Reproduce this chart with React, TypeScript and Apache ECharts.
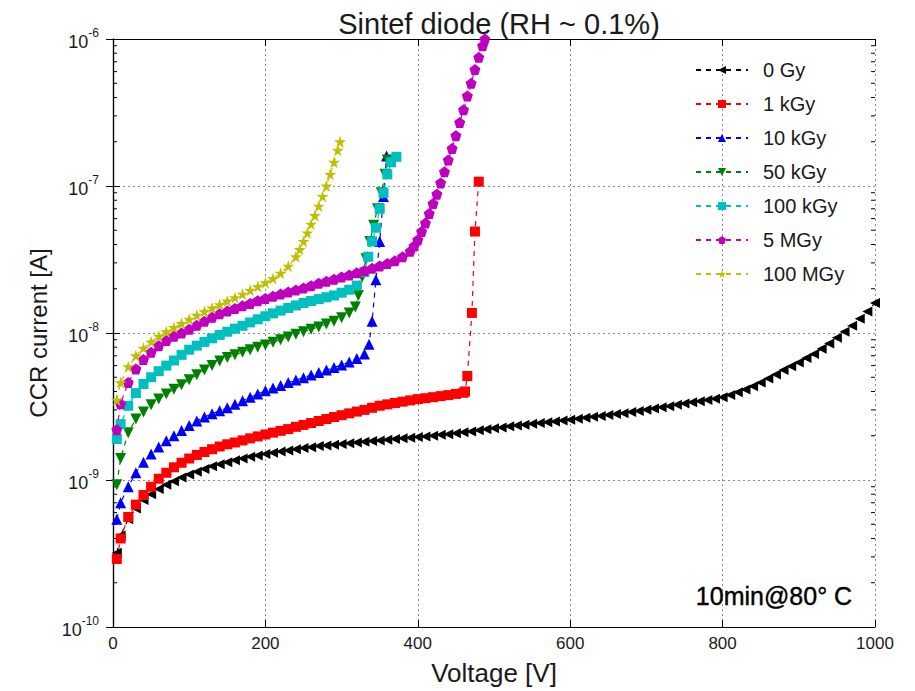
import { useEffect, useRef } from "react";
import * as echarts from "echarts";

// ---------- data ----------
const SERIES_NAMES = ["0 Gy", "1 kGy", "10 kGy", "50 kGy", "100 kGy", "5 MGy", "100 MGy"];

const V_0GY = [5, 10, 20, 30, 40, 50, 60, 70, 80, 90, 100, 110, 120, 130, 140, 150, 160, 170, 180, 190, 200,
  210, 220, 230, 240, 250, 260, 270, 280, 290, 300, 310, 320, 330, 340, 350, 360, 370, 380, 390, 400,
  410, 420, 430, 440, 450, 460, 470, 480, 490, 500, 510, 520, 530, 540, 550, 560, 570, 580, 590, 600,
  610, 620, 630, 640, 650, 660, 670, 680, 690, 700, 710, 720, 730, 740, 750, 760, 770, 780, 790, 800,
  810, 820, 830, 840, 850, 860, 870, 880, 890, 900, 910, 920, 930, 940, 950, 960, 970, 980, 990, 1000];
const I_0GY = [3.2e-10, 4.2e-10, 5.4e-10, 6.4e-10, 7.3e-10, 8.0e-10, 8.7e-10, 9.3e-10, 9.8e-10, 1.04e-9, 1.09e-9,
  1.14e-9, 1.19e-9, 1.24e-9, 1.28e-9, 1.32e-9, 1.36e-9, 1.40e-9, 1.44e-9, 1.47e-9, 1.50e-9,
  1.53e-9, 1.56e-9, 1.59e-9, 1.62e-9, 1.65e-9, 1.67e-9, 1.70e-9, 1.72e-9, 1.74e-9, 1.76e-9,
  1.78e-9, 1.80e-9, 1.82e-9, 1.84e-9, 1.86e-9, 1.88e-9, 1.90e-9, 1.92e-9, 1.94e-9, 1.96e-9,
  1.98e-9, 2.00e-9, 2.03e-9, 2.05e-9, 2.08e-9, 2.11e-9, 2.14e-9, 2.18e-9, 2.21e-9, 2.25e-9,
  2.28e-9, 2.32e-9, 2.35e-9, 2.38e-9, 2.41e-9, 2.44e-9, 2.47e-9, 2.50e-9, 2.54e-9, 2.57e-9,
  2.61e-9, 2.65e-9, 2.69e-9, 2.73e-9, 2.77e-9, 2.81e-9, 2.85e-9, 2.90e-9, 2.95e-9, 3.00e-9,
  3.06e-9, 3.12e-9, 3.18e-9, 3.25e-9, 3.31e-9, 3.38e-9, 3.44e-9, 3.50e-9, 3.57e-9, 3.65e-9,
  3.78e-9, 3.95e-9, 4.13e-9, 4.35e-9, 4.60e-9, 4.90e-9, 5.22e-9, 5.60e-9, 5.95e-9, 6.30e-9,
  6.75e-9, 7.20e-9, 7.80e-9, 8.50e-9, 9.30e-9, 1.02e-8, 1.12e-8, 1.25e-8, 1.40e-8, 1.60e-8];

const V_1KGY = [5, 10, 20, 30, 40, 50, 60, 70, 80, 90, 100, 110, 120, 130, 140, 150, 160, 170, 180, 190, 200,
  210, 220, 230, 240, 250, 260, 270, 280, 290, 300, 310, 320, 330, 340, 350, 360, 370, 380, 390, 400,
  410, 420, 430, 440, 450, 460, 462, 465, 471, 475, 480];
const I_1KGY = [2.9e-10, 4.0e-10, 5.6e-10, 6.8e-10, 7.9e-10, 9.0e-10, 1.02e-9, 1.12e-9, 1.22e-9, 1.31e-9, 1.40e-9,
  1.48e-9, 1.55e-9, 1.62e-9, 1.69e-9, 1.75e-9, 1.80e-9, 1.86e-9, 1.92e-9, 1.98e-9, 2.04e-9,
  2.10e-9, 2.16e-9, 2.22e-9, 2.30e-9, 2.37e-9, 2.44e-9, 2.52e-9, 2.60e-9, 2.68e-9, 2.76e-9,
  2.84e-9, 2.92e-9, 3.00e-9, 3.10e-9, 3.20e-9, 3.27e-9, 3.34e-9, 3.41e-9, 3.48e-9, 3.55e-9,
  3.60e-9, 3.66e-9, 3.72e-9, 3.78e-9, 3.85e-9, 3.92e-9, 4.0e-9, 5.1e-9, 1.37e-8, 4.9e-8, 1.07e-7];

const V_10KGY = [5, 10, 20, 30, 40, 50, 60, 70, 80, 90, 100, 110, 120, 130, 140, 150, 160, 170, 180, 190, 200,
  210, 220, 230, 240, 250, 260, 270, 280, 290, 300, 310, 320, 330, 336, 340, 345, 350, 355, 359];
const I_10KGY = [5.4e-10, 7.0e-10, 9.0e-10, 1.12e-9, 1.32e-9, 1.50e-9, 1.68e-9, 1.85e-9, 2.0e-9, 2.17e-9, 2.35e-9,
  2.52e-9, 2.68e-9, 2.82e-9, 2.96e-9, 3.10e-9, 3.28e-9, 3.46e-9, 3.65e-9, 3.85e-9, 4.05e-9,
  4.22e-9, 4.40e-9, 4.60e-9, 4.78e-9, 4.97e-9, 5.17e-9, 5.38e-9, 5.60e-9, 5.82e-9, 6.05e-9,
  6.35e-9, 6.70e-9, 7.20e-9, 8.4e-9, 1.2e-8, 2.3e-8, 4.2e-8, 8.5e-8, 1.6e-7];

const V_50KGY = [5, 10, 20, 30, 40, 50, 60, 70, 80, 90, 100, 110, 120, 130, 140, 150, 160, 170, 180, 190, 200,
  210, 220, 230, 240, 250, 260, 270, 280, 290, 300, 310, 318, 322, 327, 332, 337, 342, 347, 352, 357, 360];
const I_50KGY = [9.3e-10, 1.4e-9, 2.1e-9, 2.6e-9, 2.9e-9, 3.25e-9, 3.55e-9, 3.85e-9, 4.15e-9, 4.45e-9, 4.8e-9,
  5.2e-9, 5.6e-9, 6.0e-9, 6.45e-9, 6.8e-9, 7.1e-9, 7.4e-9, 7.7e-9, 8.0e-9, 8.3e-9,
  8.65e-9, 9.0e-9, 9.4e-9, 9.8e-9, 1.02e-8, 1.06e-8, 1.10e-8, 1.15e-8, 1.20e-8, 1.27e-8,
  1.37e-8, 1.5e-8, 1.8e-8, 2.4e-8, 3.2e-8, 4.2e-8, 5.4e-8, 7.0e-8, 9.0e-8, 1.2e-7, 1.5e-7];

const V_100KGY = [5, 10, 20, 30, 40, 50, 60, 70, 80, 90, 100, 110, 120, 130, 140, 150, 160, 170, 180, 190, 200,
  210, 220, 230, 240, 250, 260, 270, 280, 290, 300, 310, 320, 330, 335, 340, 345, 350, 355, 360, 365, 372];
const I_100KGY = [1.9e-9, 2.4e-9, 3.2e-9, 3.9e-9, 4.5e-9, 5.0e-9, 5.5e-9, 6.0e-9, 6.5e-9, 7.1e-9, 7.7e-9,
  8.2e-9, 8.7e-9, 9.2e-9, 9.7e-9, 1.02e-8, 1.07e-8, 1.12e-8, 1.18e-8, 1.24e-8, 1.30e-8,
  1.36e-8, 1.42e-8, 1.48e-8, 1.54e-8, 1.60e-8, 1.65e-8, 1.70e-8, 1.75e-8, 1.80e-8, 1.88e-8,
  1.97e-8, 2.1e-8, 2.6e-8, 3.3e-8, 4.2e-8, 5.2e-8, 7.0e-8, 9.0e-8, 1.2e-7, 1.45e-7, 1.58e-7];

const V_5MGY = [5, 10, 20, 30, 40, 50, 60, 70, 80, 90, 100, 110, 120, 130, 140, 150, 160, 170, 180, 190, 200,
  210, 220, 230, 240, 250, 260, 270, 280, 290, 300, 310, 320, 330, 340, 350, 360, 370, 380, 390, 395,
  400, 405, 410, 415, 420, 425, 430, 435, 440, 445, 450, 455, 460, 465, 470, 475, 480, 485, 488];
const I_5MGY = [2.2e-9, 3.3e-9, 4.6e-9, 5.7e-9, 6.6e-9, 7.4e-9, 8.2e-9, 8.9e-9, 9.5e-9, 1.0e-8, 1.06e-8,
  1.13e-8, 1.20e-8, 1.28e-8, 1.35e-8, 1.41e-8, 1.47e-8, 1.53e-8, 1.59e-8, 1.66e-8, 1.72e-8,
  1.78e-8, 1.84e-8, 1.90e-8, 1.96e-8, 2.02e-8, 2.10e-8, 2.18e-8, 2.25e-8, 2.32e-8, 2.40e-8,
  2.48e-8, 2.57e-8, 2.66e-8, 2.76e-8, 2.86e-8, 2.97e-8, 3.10e-8, 3.30e-8, 3.60e-8, 3.90e-8,
  4.3e-8, 4.9e-8, 5.6e-8, 6.5e-8, 7.6e-8, 8.8e-8, 1.05e-7, 1.25e-7, 1.5e-7, 1.8e-7, 2.2e-7, 2.7e-7,
  3.3e-7, 4.1e-7, 5.0e-7, 6.2e-7, 7.5e-7, 9.0e-7, 1.0e-6];

const V_100MGY = [5, 10, 20, 30, 40, 50, 60, 70, 80, 90, 100, 110, 120, 130, 140, 150, 160, 170, 180, 190, 200,
  210, 220, 230, 240, 245, 250, 255, 260, 265, 270, 275, 280, 285, 290, 295, 298];
const I_100MGY = [3.5e-9, 4.6e-9, 5.9e-9, 7.0e-9, 7.9e-9, 8.7e-9, 9.5e-9, 1.02e-8, 1.09e-8, 1.16e-8, 1.24e-8,
  1.32e-8, 1.40e-8, 1.48e-8, 1.56e-8, 1.65e-8, 1.74e-8, 1.84e-8, 1.95e-8, 2.07e-8, 2.20e-8,
  2.35e-8, 2.55e-8, 2.85e-8, 3.3e-8, 3.7e-8, 4.2e-8, 4.8e-8, 5.5e-8, 6.3e-8, 7.3e-8, 8.5e-8,
  1.0e-7, 1.2e-7, 1.45e-7, 1.75e-7, 2.0e-7];

const X_TICKS = [0, 200, 400, 600, 800, 1000];
const Y_DECADES = [-10, -9, -8, -7, -6];

const TITLE = "Sintef diode (RH ~ 0.1%)";
const X_NAME = "Voltage [V]";
const Y_NAME = "CCR current [A]";
const NOTE = "10min@80° C";

// ---------- styling ----------
const COLORS = ["#000000", "#ff0000", "#0000ff", "#008000", "#00bfbf", "#bf00bf", "#bfbf00"];
const PENTAGON = "path://M0,-1 L0.951,-0.309 L0.588,0.809 L-0.588,0.809 L-0.951,-0.309 Z";
const STAR =
  "path://M0,-1 L0.2245,-0.309 L0.951,-0.309 L0.363,0.118 L0.588,0.809 L0,0.382 L-0.588,0.809 L-0.363,0.118 L-0.951,-0.309 L-0.2245,-0.309 Z";
const SYMBOLS = ["triangle", "rect", "triangle", "triangle", "rect", PENTAGON, STAR];
const ROTATE = [90, 0, 0, 180, 0, 0, 0];
const SIZES = [10, 10, 11, 11, 10, 11, 12];
const FONT = "Liberation Sans, Arial, sans-serif";

const zip = (v: number[], i: number[]) => v.map((x, k) => [x, i[k]]);
const SERIES_DATA = [
  zip(V_0GY, I_0GY),
  zip(V_1KGY, I_1KGY),
  zip(V_10KGY, I_10KGY),
  zip(V_50KGY, I_50KGY),
  zip(V_100KGY, I_100KGY),
  zip(V_5MGY, I_5MGY),
  zip(V_100MGY, I_100MGY),
];

export default function App() {
  const ref = useRef<HTMLDivElement>(null);
  useEffect(() => {
    if (!ref.current) return;
    const chart = echarts.init(ref.current, undefined, { renderer: "svg" });
    const L = 113, R = 40, T = 39, B = 60;
    const tickCommon = { show: true, inside: true, length: 7, lineStyle: { color: "#000", width: 1 } };
    const option: any = {
      animation: false,
      backgroundColor: "#ffffff",
      title: {
        text: TITLE,
        left: 494,
        textAlign: "center",
        top: 4,
        textStyle: { fontFamily: FONT, fontSize: 29, fontWeight: "normal", color: "#1a1a1a" },
      },
      grid: { left: L, right: R, top: T, bottom: B, containLabel: false },
      legend: {
        orient: "vertical",
        left: 690,
        top: 55,
        itemWidth: 52,
        itemHeight: 10,
        itemGap: 14,
        data: SERIES_NAMES,
        textStyle: { fontFamily: FONT, fontSize: 20, color: "#1a1a1a", padding: [0, 0, 0, 10] },
      },
      xAxis: [
        {
          type: "value",
          min: 0,
          max: 1000,
          interval: 200,
          name: X_NAME,
          nameLocation: "middle",
          nameGap: 33,
          nameTextStyle: { fontFamily: FONT, fontSize: 26, color: "#1a1a1a" },
          axisLine: { show: true, lineStyle: { color: "#000", width: 1.2 } },
          axisTick: tickCommon,
          axisLabel: {
            fontFamily: FONT,
            fontSize: 17,
            color: "#1a1a1a",
            margin: 8,
            formatter: (v: number) => (X_TICKS.includes(v) ? String(v) : ""),
          },
          splitLine: { show: true, lineStyle: { color: "#8a8a8a", type: [2, 3], width: 1 } },
        },
        {
          type: "value",
          position: "top",
          min: 0,
          max: 1000,
          interval: 200,
          axisLine: { show: true, lineStyle: { color: "#000", width: 1.2 } },
          axisTick: tickCommon,
          axisLabel: { show: false },
          splitLine: { show: false },
        },
      ],
      yAxis: [
        {
          type: "log",
          logBase: 10,
          min: 1e-10,
          max: 1e-6,
          name: Y_NAME,
          nameLocation: "middle",
          nameGap: 63,
          nameTextStyle: { fontFamily: FONT, fontSize: 24, color: "#1a1a1a" },
          axisLine: { show: true, lineStyle: { color: "#000", width: 1.2 } },
          axisTick: tickCommon,
          axisLabel: {
            margin: 14,
            formatter: (v: number) => {
              const e = Math.round(Math.log10(v));
              return Y_DECADES.includes(e) ? `{b|10}{s|${e}}` : "";
            },
            rich: {
              b: { fontFamily: FONT, fontSize: 18, color: "#1a1a1a", lineHeight: 24, verticalAlign: "bottom" },
              s: { fontFamily: FONT, fontSize: 12, color: "#1a1a1a", lineHeight: 13, verticalAlign: "top" },
            },
          },
          splitLine: { show: true, lineStyle: { color: "#8a8a8a", type: [2, 3], width: 1 } },
        },
        {
          type: "log",
          logBase: 10,
          position: "right",
          min: 1e-10,
          max: 1e-6,
          axisLine: { show: true, lineStyle: { color: "#000", width: 1.2 } },
          axisTick: tickCommon,
          axisLabel: { show: false },
          splitLine: { show: false },
        },
      ],
      series: SERIES_NAMES.map((name, k) => ({
        name,
        type: "line",
        xAxisIndex: 0,
        yAxisIndex: 0,
        data: SERIES_DATA[k],
        symbol: SYMBOLS[k],
        symbolRotate: ROTATE[k],
        symbolSize: SIZES[k],
        showSymbol: true,
        clip: true,
        lineStyle: { color: COLORS[k], width: 1.2, type: [5, 5] },
        itemStyle: { color: COLORS[k], borderWidth: 0 },
        z: 2 + k,
      })),
    };
    chart.setOption(option);

    // minor log ticks (2..9 per decade) on left and right axes, positioned by the axis scale
    const g: any[] = [];
    const xl = chart.convertToPixel({ xAxisIndex: 0 }, 0) as number;
    const xr = chart.convertToPixel({ xAxisIndex: 0 }, 1000) as number;
    for (let d = -10; d < -6; d++) {
      for (let m = 2; m <= 9; m++) {
        const y = chart.convertToPixel({ yAxisIndex: 0 }, m * Math.pow(10, d)) as number;
        g.push({ type: "line", shape: { x1: xl, y1: y, x2: xl + 4, y2: y }, style: { stroke: "#000", lineWidth: 1 }, silent: true });
        g.push({ type: "line", shape: { x1: xr, y1: y, x2: xr - 4, y2: y }, style: { stroke: "#000", lineWidth: 1 }, silent: true });
      }
    }
    const nx = chart.convertToPixel({ xAxisIndex: 0 }, 970) as number;
    const ny = chart.convertToPixel({ yAxisIndex: 0 }, 1.62e-10) as number;
    g.push({
      type: "text",
      x: nx,
      y: ny,
      style: { text: NOTE, fontFamily: FONT, fontSize: 25, fontWeight: "normal", fill: "#000", stroke: "#000", lineWidth: 0.4, textAlign: "right", textVerticalAlign: "middle" },
      z: 20,
    });
    chart.setOption({ graphic: g });

    return () => chart.dispose();
  }, []);
  return <div ref={ref} style={{ position: "fixed", left: 0, top: 0, width: 915, height: 691, background: "#fff" }} />;
}
